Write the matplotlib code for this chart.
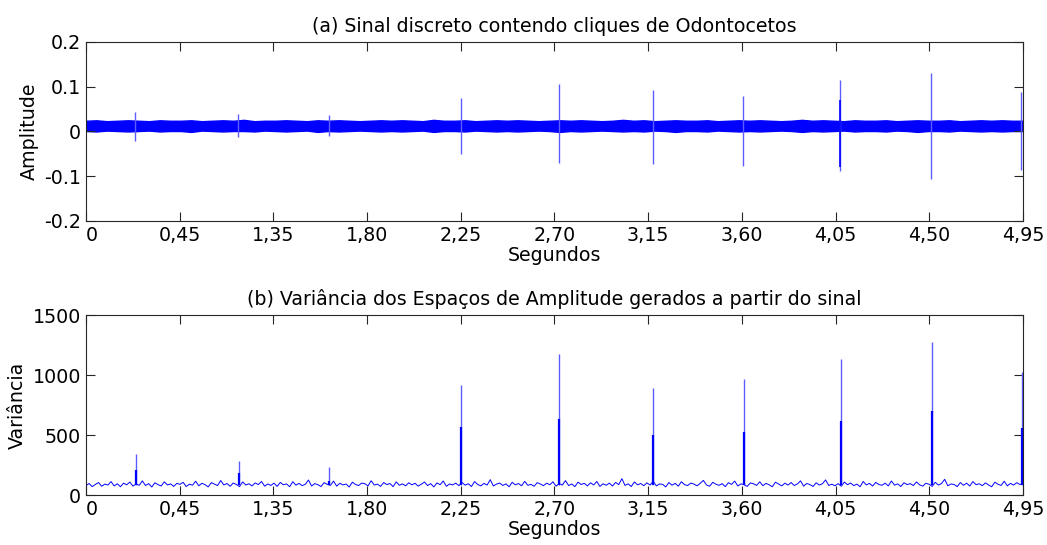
import numpy as np
import matplotlib.pyplot as plt
import matplotlib as mpl

mpl.rcParams.update({
    "font.family": "sans-serif",
    "font.sans-serif": ["DejaVu Sans"],
    "font.size": 13.7,
})

BLUE = "#0000ff"
SPIKE = "#5c5cff"

# x axis: seconds, 11 equally spaced ticks with these labels
tick_labels = ["0", "0,45", "1,35", "1,80", "2,25", "2,70",
               "3,15", "3,60", "4,05", "4,50", "4,95"]
t_max = 4.95

# (a) signal: noise band envelope (upper / lower edges)
band_upper = [0.024, 0.025, 0.023, 0.024, 0.025, 0.024, 0.023, 0.025, 0.024, 0.024,
              0.025, 0.023, 0.024, 0.025, 0.024, 0.026, 0.023, 0.024, 0.024, 0.025,
              0.024, 0.023, 0.025, 0.024, 0.025, 0.024, 0.023, 0.024, 0.025, 0.024,
              0.025, 0.024, 0.023, 0.026, 0.024, 0.024, 0.025, 0.023, 0.024, 0.025,
              0.024, 0.025, 0.024, 0.023, 0.024, 0.025, 0.024, 0.025, 0.024, 0.023,
              0.024, 0.026, 0.024, 0.025, 0.023, 0.024, 0.025, 0.024, 0.024, 0.025,
              0.023, 0.024, 0.025, 0.024, 0.025, 0.024, 0.023, 0.024, 0.026, 0.024,
              0.025, 0.024, 0.023, 0.025, 0.024, 0.024, 0.025, 0.023, 0.024, 0.025,
              0.024, 0.024, 0.025, 0.023, 0.024, 0.025, 0.024, 0.025, 0.024, 0.024]
band_lower = [0.001, 0.000, 0.002, 0.001, 0.000, 0.001, 0.002, 0.000, 0.001, 0.001,
              -0.001, 0.002, 0.001, 0.000, 0.001, 0.001, 0.000, 0.002, 0.001, 0.000,
              0.001, 0.002, -0.001, 0.001, 0.000, 0.001, 0.002, 0.001, 0.000, 0.001,
              0.000, 0.001, 0.002, -0.001, 0.001, 0.001, 0.000, 0.002, 0.001, 0.000,
              0.001, 0.000, 0.001, 0.002, 0.001, -0.001, 0.001, 0.000, 0.001, 0.002,
              0.001, 0.000, 0.001, 0.000, 0.002, 0.001, -0.001, 0.001, 0.001, 0.000,
              0.002, 0.001, 0.000, 0.001, 0.000, 0.001, 0.002, 0.001, -0.001, 0.001,
              0.000, 0.001, 0.002, 0.000, 0.001, 0.001, 0.000, 0.002, 0.001, -0.001,
              0.001, 0.001, 0.000, 0.002, 0.001, 0.000, 0.001, 0.000, 0.001, 0.001]

# clicks: time, max, min
click_t = [0.26, 0.805, 1.284, 1.979, 2.499, 2.994, 3.473, 3.985, 4.462, 4.941]
click_max = [0.043, 0.040, 0.037, 0.075, 0.107, 0.093, 0.080, 0.115, 0.131, 0.088]
click_min = [-0.021, -0.013, -0.011, -0.050, -0.070, -0.072, -0.078, -0.088, -0.106, -0.085]

# (b) variance: baseline and peaks
var_base = [78, 96, 70, 88, 104, 73, 91, 83, 112, 76, 94, 69, 99, 85, 108,
            74, 92, 81, 118, 79, 95, 67, 102, 87, 75, 110, 84, 93, 72, 97,
            89, 106, 71, 90, 82, 115, 77, 98, 86, 68, 103, 91, 79, 121, 84,
            96, 73, 100, 88, 70, 109, 83, 94, 76, 101, 87, 113, 74, 92, 80,
            99, 72, 105, 85, 93, 69, 111, 82, 97, 78, 90, 125, 75, 95, 86,
            71, 103, 89, 80, 116, 74, 98, 84, 92, 67, 107, 88, 79, 100, 94,
            76, 119, 83, 91, 72, 104, 87, 96, 70, 110, 81, 93, 77, 102, 85,
            98, 74, 90, 108, 79, 95, 68, 101, 86, 117, 73, 92, 84, 99, 78,
            105, 82, 94, 71, 112, 88, 76, 97, 83, 128, 75, 91, 100, 80, 93,
            69, 106, 85, 96, 77, 114, 81, 89, 73, 103, 92, 78, 99, 86, 110,
            74, 95, 83, 120, 79, 92, 70, 107, 88, 97, 76, 102, 84, 113, 72,
            94, 81, 99, 75, 105, 87, 136, 80, 93, 71, 109, 85, 96, 78, 101,
            83, 115, 76, 92, 89, 68, 104, 82, 97, 74, 111, 86, 79, 100, 91,
            77, 98, 122, 84, 73, 106, 90, 81, 95, 70, 103, 88, 116, 75, 93,
            86, 72, 101, 94, 80, 110, 78, 97, 85, 69, 107, 91, 76, 99, 83,
            104, 79, 92, 118, 74, 96, 87, 71, 102, 83, 94, 126, 80, 90, 77,
            95, 73, 108, 86, 100, 78, 91, 69, 113, 84, 97, 75, 105, 88, 81,
            99, 76, 117, 82, 93, 71, 102, 87, 95, 79, 109, 85, 74, 98, 90,
            72, 106, 83, 96, 131, 77, 92, 88, 70, 104, 81, 99, 75, 112, 86,
            94, 78, 101, 84, 69, 107, 90, 80, 115, 76, 97, 83, 103, 88, 95]
var_t = [0.264, 0.807, 1.286, 1.979, 2.499, 2.994, 3.478, 3.989, 4.470, 4.946]
var_peak = [341, 281, 233, 917, 1175, 894, 964, 1133, 1278, 1025]
var_inner = [208, 186, 120, 569, 633, 497, 528, 619, 700, 561]

fig = plt.figure(figsize=(10.47, 5.45), dpi=100)
ax1 = fig.add_axes([0.0821, 0.5945, 0.8950, 0.3285])
ax2 = fig.add_axes([0.0821, 0.0917, 0.8950, 0.3303])

# top panel
tb = np.linspace(0, t_max, len(band_upper))
ax1.fill_between(tb, band_lower, band_upper, color=BLUE,
                 linewidth=1.0, edgecolor=BLUE)
ax1.vlines(click_t, click_min, click_max, color=SPIKE, linewidth=1.0)
ax1.vlines(click_t[7], -0.08, 0.07, color=BLUE, linewidth=1.2)
ax1.set_ylim(-0.2, 0.2)
ax1.set_yticks([-0.2, -0.1, 0, 0.1, 0.2])
ax1.set_yticklabels(["-0.2", "-0.1", "0", "0.1", "0.2"])
ax1.set_ylabel("Amplitude")
ax1.set_title("(a) Sinal discreto contendo cliques de Odontocetos", fontsize=13.7, pad=7)

# bottom panel
tv = np.linspace(0, t_max, len(var_base))
ax2.plot(tv, var_base, color=BLUE, linewidth=0.7)
ax2.vlines(var_t, 85, var_peak, color=SPIKE, linewidth=1.0)
ax2.vlines(var_t, 85, var_inner, color=BLUE, linewidth=1.6)
ax2.set_ylim(0, 1500)
ax2.set_yticks([0, 500, 1000, 1500])
ax2.set_ylabel("Variância")
ax2.set_title("(b) Variância dos Espaços de Amplitude gerados a partir do sinal",
              fontsize=13.7, pad=7)

for ax in (ax1, ax2):
    ax.set_xlim(0, t_max)
    ax.set_xticks(np.linspace(0, t_max, len(tick_labels)))
    ax.set_xticklabels(tick_labels)
    ax.get_xticklabels()[0].set_ha("left")
    ax.set_xlabel("Segundos", labelpad=1)
    ax.tick_params(direction="in", length=6.5, width=0.8, top=True, right=True,
                   labelsize=13.7, colors="#262626", labelcolor="black")
    for s in ax.spines.values():
        s.set_color("#262626")
        s.set_linewidth(0.8)

fig.savefig("out.png", dpi=100)
